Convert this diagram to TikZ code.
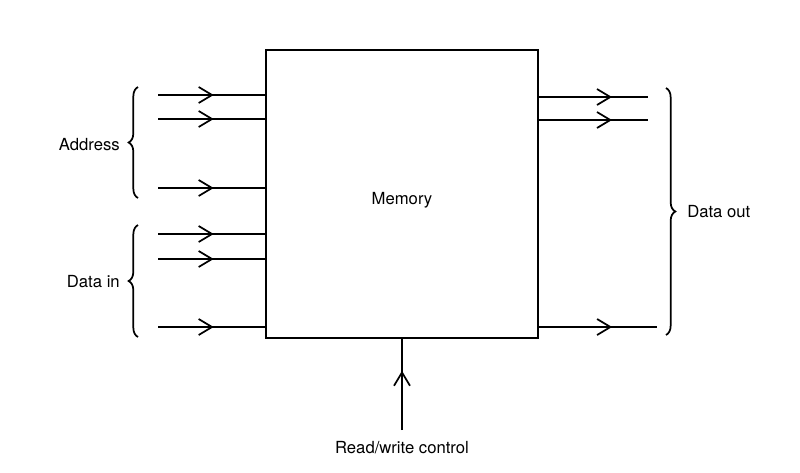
\documentclass[tikz,border=0pt]{standalone}
\usepackage{fontspec}
\setmainfont{TeX Gyre Heros}
\usetikzlibrary{arrows.meta,positioning,calc,decorations.markings,decorations.pathreplacing}
\tikzset{
  wire/.style={line width=1.3pt},
  midbarb/.style={wire,postaction={decorate},
    decoration={markings,mark=at position #1 with {\arrow{Straight Barb[length=10pt,width=12pt,line width=1.3pt]}}}},
  bracket/.style={line width=1.3pt,decorate,decoration={brace,amplitude=7pt}},
  lbl/.style={font=\fontsize{12.5}{15}\selectfont,inner sep=0pt}
}

\begin{document}
\begin{tikzpicture}[x=0.75pt,y=-0.75pt]
\useasboundingbox (0,0) rectangle (800,472);
% memory block
\node[draw,wire,lbl,minimum width=204pt,minimum height=216pt,
  text height=18pt,text depth=3pt] (mem) at (402,194) {Memory};
% address and data lines in
\foreach \n/\y in {1/95,2/119,3/188,4/234,5/259,6/327}
  \coordinate (in\n) at (158,\y);
\foreach \n in {1,...,6}
  \draw[midbarb=0.52] (in\n) -- (mem.west |- in\n);
% data lines out
\coordinate (out1) at (648,97);
\coordinate (out2) at (648,120);
\coordinate (out3) at (657,327);
\draw[midbarb=0.67] (mem.east |- out1) -- (out1);
\draw[midbarb=0.67] (mem.east |- out2) -- (out2);
\draw[midbarb=0.62] (mem.east |- out3) -- (out3);
% read/write control
\coordinate (rwend) at (402,430);
\draw[midbarb=0.65] (rwend) -- (mem.south);
\node[lbl] (rw) at (402,448) {Read/write control};
% braces and labels
\draw[bracket] (138,198) -- (138,87);
\draw[bracket] (138,337) -- (138,225);
\draw[bracket] (666,88) -- (666,335);
\node[lbl,anchor=east] (addr) at (120,145) {Address};
\node[lbl,anchor=east] (datain) at (120,282) {Data in};
\node[lbl,anchor=west] (dataout) at (687,212) {Data out};
\end{tikzpicture}
\end{document}
